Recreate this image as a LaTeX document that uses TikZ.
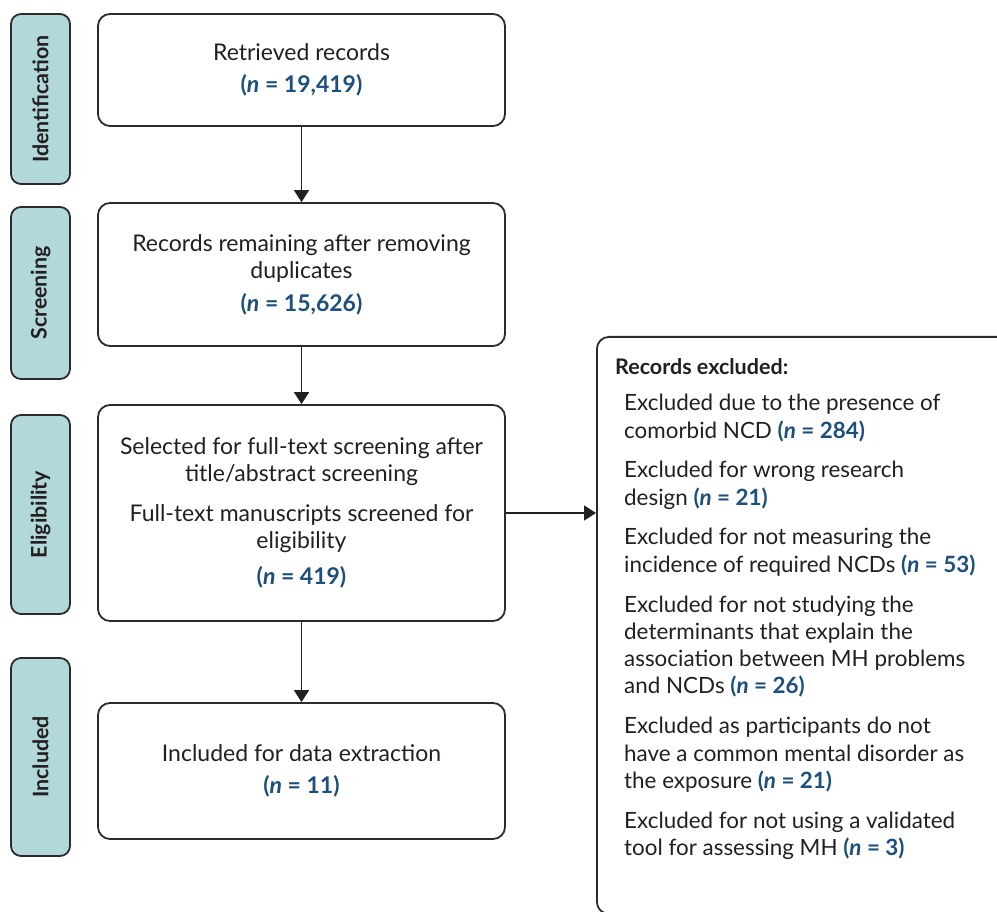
\documentclass[tikz,border=0pt]{standalone}
\usepackage{fontspec}
\setmainfont{Lato}
\usetikzlibrary{arrows.meta}
\definecolor{nblue}{HTML}{1D4F7C}
\definecolor{tabfill}{HTML}{B2D8DA}
\definecolor{ink}{HTML}{231F20}
\definecolor{edge}{HTML}{2B2B2B}
\newcommand{\nval}[1]{{\color{nblue}\bfseries(\textit{n} = #1)}}
\begin{document}
\begin{tikzpicture}[x=1pt,y=-1pt,
  mainbox/.style={draw=edge, line width=1.8pt, rounded corners=12pt, minimum width=407pt, inner sep=0pt, align=center, text=ink, font=\fontsize{23}{27}\selectfont},
  tabbox/.style={draw=edge, line width=1.8pt, fill=tabfill, rounded corners=10pt, minimum width=59pt, inner sep=0pt},
  tablabel/.style={rotate=90, font=\fontsize{21.4}{24}\selectfont\bfseries, text=ink, inner sep=0pt},
  flow/.style={draw=ink, line width=1.6pt, -{Triangle[width=15pt,length=12pt]}},
  exbox/.style={draw=edge, line width=1.8pt, rounded corners=12pt, inner sep=0pt, anchor=north west},
  extext/.style={anchor=north west, inner sep=0pt, align=left, text=ink, font=\fontsize{22.4}{27.3}\selectfont}
]
\useasboundingbox (0,0) rectangle (997,912);
\begin{scope}
\clip (0,0) rectangle (997,912);

% side tabs
\node[tabbox, minimum height=170pt] (t1) at (40.5,99) {};
\node[tablabel] (l1) at (t1.center) {Identification};
\node[tabbox, minimum height=172pt] (t2) at (40.5,293) {};
\node[tablabel] (l2) at (t2.center) {Screening};
\node[tabbox, minimum height=199pt] (t3) at (40.5,514.5) {};
\node[tablabel] (l3) at (t3.center) {Eligibility};
\node[tabbox, minimum height=198pt] (t4) at (40.5,757) {};
\node[tablabel] (l4) at (t4.center) {Included};

% main boxes
\node[mainbox, minimum height=112pt] (b1) at (301.5,70) {Retrieved records\\[5pt]\nval{19,419}};
\node[mainbox, minimum height=143pt] (b2) at (301.5,274.5) {Records remaining after removing\\duplicates\\[6pt]\nval{15,626}};
\node[mainbox, minimum height=216pt] (b3) at (301.5,513) {Selected for full-text screening after\\title/abstract screening\\[13pt]Full-text manuscripts screened for\\eligibility\\[9pt]\nval{419}};
\node[mainbox, minimum height=136pt] (b4) at (301.5,771) {Included for data extraction\\[5pt]\nval{11}};

% exclusion box
\node[exbox, minimum width=420pt, minimum height=577pt] (ex) at (596,336) {};
\node[anchor=base west, inner sep=0pt, text=ink, font=\fontsize{21.5}{24}\selectfont\bfseries] (exh) at (615,374) {Records excluded:};
\node[extext] (exi) at (624,394) {Excluded due to the presence of\\
comorbid NCD \nval{284}\\[12.5pt]
Excluded for wrong research\\
design \nval{21}\\[12.5pt]
Excluded for not measuring the\\
incidence of required NCDs \nval{53}\\[12.5pt]
Excluded for not studying the\\
determinants that explain the\\
association between MH problems\\
and NCDs \nval{26}\\[12.5pt]
Excluded as participants do not\\
have a common mental disorder as\\
the exposure \nval{21}\\[12.5pt]
Excluded for not using a validated\\
tool for assessing MH \nval{3}};

% connectors
\draw[flow] (b1) -- (b2);
\draw[flow] (b2) -- (b3);
\draw[flow] (b3) -- (b4);
\draw[flow] (b3.east) -- (b3.east -| ex.west);
\end{scope}
\end{tikzpicture}
\end{document}
